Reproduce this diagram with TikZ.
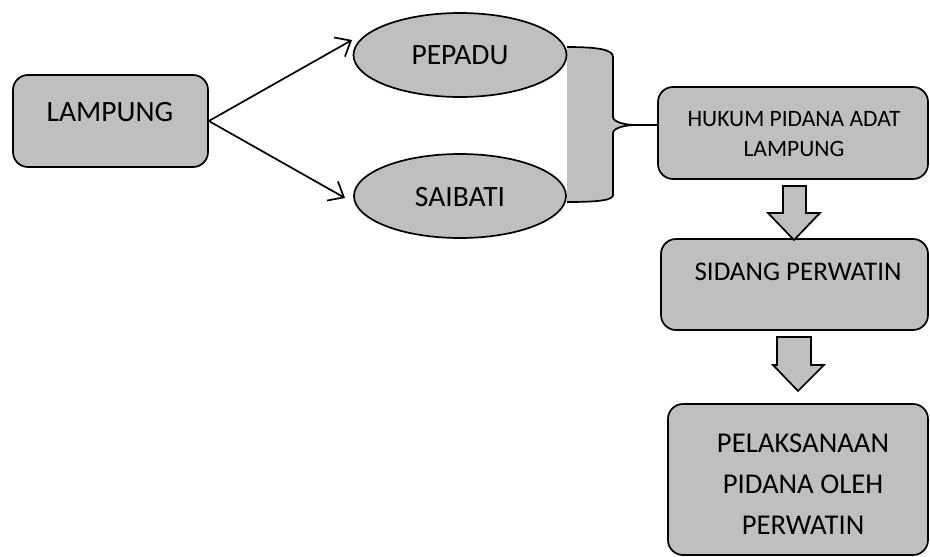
\documentclass[tikz,border=0pt]{standalone}
\usepackage{fontspec}
\setmainfont{Carlito}
\usepackage{tikz}
\usetikzlibrary{arrows.meta,shapes.geometric}
\definecolor{boxgray}{RGB}{191,191,191}
\tikzset{
  box/.style={draw, fill=boxgray, line width=1.7pt, rounded corners=15pt},
  oval/.style={draw, fill=boxgray, line width=1.7pt, ellipse},
  bigtext/.style={font=\fontsize{29.5}{41}\selectfont, align=center, inner sep=0pt},
  midtext/.style={font=\fontsize{28.7}{41}\selectfont, align=center, inner sep=0pt},
  sidetext/.style={font=\fontsize{27}{41}\selectfont, align=center, inner sep=0pt},
  smalltext/.style={font=\fontsize{23.5}{30}\selectfont, align=center, inner sep=0pt},
  barb/.style={line width=1.7pt, -{Straight Barb[length=13pt,width=22pt,line width=1.7pt]}},
  fat/.style={draw, fill=boxgray, line width=1.7pt, line join=miter}
}
\begin{document}
\begin{tikzpicture}[x=1pt, y=-1pt]
    \useasboundingbox (0,0) rectangle (930,557);
    \fill[boxgray] (567,47) .. controls (600,47) and (613,50) .. (613,57) -- (613,117) .. controls (613,122) and (625,125) .. (636,125) .. controls (625,125) and (613,128) .. (613,133) -- (613,195) .. controls (613,200) and (600,202) .. (567,202) -- cycle;
    \draw[line width=1.7pt] (567,47) .. controls (600,47) and (613,50) .. (613,57) -- (613,117) .. controls (613,122) and (625,125) .. (636,125) .. controls (625,125) and (613,128) .. (613,133) -- (613,195) .. controls (613,200) and (600,202) .. (567,202);
    \coordinate (bracetip) at (636,125);
    \node[box, minimum width=195, minimum height=92] (lampung) at (110.5,121) {};
    \node[oval, minimum width=213, minimum height=84] (pepadu) at (460,55) {};
    \node[oval, minimum width=212, minimum height=84] (saibati) at (460,196) {};
    \node[box, minimum width=270, minimum height=92] (hukum) at (793,133) {};
    \node[box, minimum width=267, minimum height=91] (sidang) at (794.5,284.5) {};
    \node[box, minimum width=260, minimum height=151] (pelaksanaan) at (798,479.5) {};
    \node[bigtext] at (110,112) {LAMPUNG};
    \node[bigtext] at (460,55) {PEPADU};
    \node[bigtext] at (460,197) {SAIBATI};
    \node[smalltext] at (794,134) {HUKUM PIDANA ADAT\\LAMPUNG};
    \node[sidetext] at (798,272) {SIDANG PERWATIN};
    \node[midtext] at (803,484) {PELAKSANAAN\\PIDANA OLEH\\PERWATIN};
    \coordinate (topend) at (352,40);
    \coordinate (botend) at (345,198);
    \draw[barb] (lampung.east) -- (topend);
    \draw[barb] (lampung.east) -- (botend);
    \draw[line width=1.7pt] (bracetip) -- (bracetip -| hukum.west);
    \draw[fat] (783,186) -- (806,186) -- (806,213) -- (820,213) -- (794,240) -- (768,213) -- (783,213) -- cycle;
    \draw[fat] (777,337) -- (811,337) -- (811,365) -- (824,365) -- (798,391) -- (773,365) -- (777,365) -- cycle;
\end{tikzpicture}
\end{document}
